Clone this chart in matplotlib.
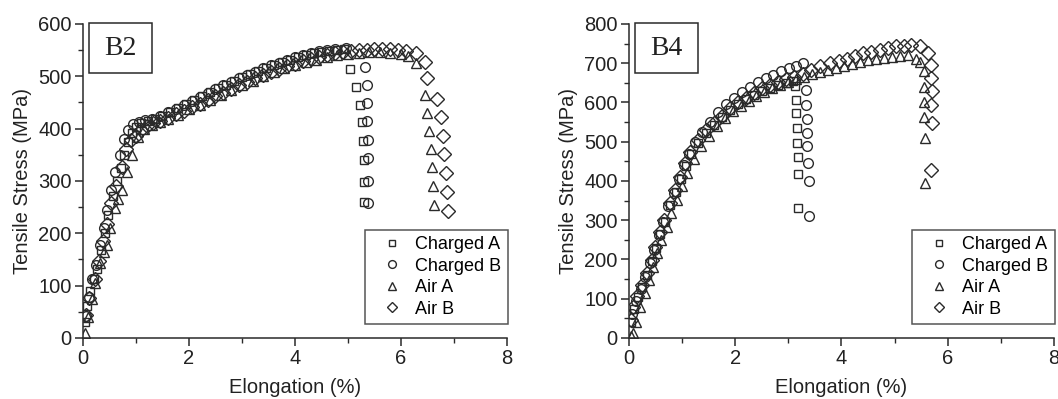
import numpy as np
import matplotlib
matplotlib.use("Agg")
import matplotlib.pyplot as plt
from matplotlib.patches import Rectangle
from matplotlib.ticker import MultipleLocator

plt.rcParams["font.family"] = ["Liberation Sans", "DejaVu Sans"]

labels = ["Charged A", "Charged B", "Air A", "Air B"]

# ---- B2 ----
b2_ca_x = [0.03, 0.08, 0.14, 0.20, 0.27, 0.34, 0.41, 0.48, 0.56, 0.64, 0.71, 0.78, 0.85, 0.92, 1.00, 1.10, 1.22, 1.35, 1.50, 1.65,
           1.80, 1.95, 2.10, 2.25, 2.40, 2.55, 2.70, 2.85, 3.00, 3.15, 3.30, 3.45, 3.60, 3.75, 3.90, 4.05, 4.20, 4.35, 4.50, 4.65,
           4.80, 4.93, 5.04, 5.16, 5.23, 5.26, 5.29, 5.30, 5.30, 5.30]
b2_ca_y = [30, 62, 90, 112, 132, 168, 200, 235, 272, 300, 325, 350, 374, 392, 403, 410, 414, 419, 425, 432,
           440, 447, 455, 463, 470, 477, 484, 491, 498, 504, 510, 516, 522, 527, 532, 536, 540, 544, 547, 549,
           551, 552, 514, 479, 446, 413, 376, 340, 298, 259]
b2_cb_x = [0.05, 0.11, 0.18, 0.25, 0.32, 0.39, 0.46, 0.53, 0.61, 0.69, 0.77, 0.85, 0.95, 1.05, 1.17, 1.30, 1.45, 1.60, 1.75, 1.90,
           2.05, 2.20, 2.35, 2.50, 2.65, 2.80, 2.95, 3.10, 3.25, 3.40, 3.55, 3.70, 3.85, 4.00, 4.15, 4.30, 4.45, 4.60, 4.75, 4.97,
           5.32, 5.35, 5.35, 5.36, 5.37, 5.38, 5.38, 5.38]
b2_cb_y = [42, 78, 112, 140, 178, 210, 245, 282, 318, 350, 380, 398, 408, 413, 416, 419, 424, 431, 438, 446,
           453, 461, 468, 476, 483, 490, 497, 503, 509, 515, 521, 526, 531, 536, 540, 544, 548, 551, 553, 555,
           518, 484, 449, 414, 379, 344, 300, 257]
b2_aa_x = [0.03, 0.10, 0.17, 0.23, 0.32, 0.40, 0.45, 0.51, 0.60, 0.67, 0.73, 0.83, 0.92, 1.03, 1.15, 1.30, 1.45, 1.60, 1.80, 2.00,
           2.20, 2.40, 2.60, 2.80, 3.00, 3.20, 3.40, 3.60, 3.80, 4.00, 4.20, 4.40, 4.60, 4.80, 5.00, 5.20, 5.40, 5.60, 5.80, 6.00,
           6.14, 6.28, 6.45, 6.50, 6.53, 6.56, 6.59, 6.61, 6.62]
b2_aa_y = [10, 40, 75, 105, 143, 165, 178, 211, 248, 265, 283, 318, 350, 385, 400, 407, 412, 418, 427, 437,
           446, 455, 465, 474, 483, 492, 500, 508, 515, 521, 527, 532, 537, 540, 543, 545, 546, 546, 545, 543,
           538, 525, 465, 430, 396, 362, 326, 291, 255]
b2_ab_x = [0.06, 0.12, 0.23, 0.30, 0.38, 0.45, 0.52, 0.62, 0.73, 0.82, 0.91, 1.00, 1.10, 1.20, 1.32, 1.45, 1.60, 1.75, 1.90, 2.05,
           2.20, 2.35, 2.50, 2.65, 2.80, 2.95, 3.10, 3.25, 3.40, 3.55, 3.70, 3.85, 4.00, 4.15, 4.30, 4.45, 4.60, 4.75, 4.90, 5.05,
           5.20, 5.35, 5.50, 5.65, 5.80, 5.95, 6.10, 6.28, 6.45, 6.50, 6.68, 6.76, 6.79, 6.81, 6.84, 6.86, 6.88]
b2_ab_y = [44, 77, 113, 148, 186, 218, 258, 290, 327, 361, 378, 386, 398, 405, 410, 415, 421, 428, 434, 441,
           448, 455, 462, 469, 476, 483, 490, 496, 502, 508, 514, 519, 524, 529, 533, 537, 541, 544, 547, 549,
           550, 551, 552, 552, 552, 551, 549, 544, 528, 497, 457, 422, 386, 352, 315, 279, 243]

# ---- B4 ----
b4_ca_x = [0.03, 0.09, 0.17, 0.25, 0.34, 0.44, 0.51, 0.59, 0.67, 0.78, 0.88, 0.98, 1.07, 1.17, 1.30, 1.45, 1.60, 1.75, 1.90, 2.05,
           2.20, 2.35, 2.50, 2.65, 2.80, 2.95, 3.08, 3.13, 3.15, 3.15, 3.16, 3.17, 3.18, 3.18, 3.18]
b4_ca_y = [40, 75, 105, 130, 160, 195, 228, 265, 295, 338, 372, 405, 438, 468, 498, 522, 543, 562, 580, 595,
           608, 620, 630, 638, 645, 650, 655, 641, 607, 573, 534, 496, 462, 418, 330]
b4_cb_x = [0.06, 0.14, 0.22, 0.31, 0.40, 0.48, 0.56, 0.64, 0.74, 0.84, 0.94, 1.03, 1.13, 1.25, 1.38, 1.52, 1.67, 1.82, 1.97, 2.12,
           2.27, 2.42, 2.57, 2.72, 2.87, 3.02, 3.15, 3.28, 3.34, 3.34, 3.35, 3.35, 3.36, 3.37, 3.38, 3.39]
b4_cb_y = [60, 95, 125, 155, 190, 225, 262, 295, 335, 370, 405, 440, 470, 500, 525, 550, 575, 595, 612, 627,
           640, 652, 662, 671, 680, 688, 694, 700, 632, 594, 558, 522, 488, 445, 400, 311]
b4_aa_x = [0.04, 0.08, 0.13, 0.20, 0.30, 0.37, 0.46, 0.52, 0.61, 0.71, 0.80, 0.90, 0.99, 1.10, 1.22, 1.35, 1.50, 1.65, 1.80, 1.95,
           2.10, 2.25, 2.40, 2.55, 2.70, 2.85, 3.00, 3.15, 3.30, 3.45, 3.60, 3.75, 3.90, 4.05, 4.20, 4.35, 4.50, 4.65, 4.80, 4.95,
           5.10, 5.25, 5.40, 5.47, 5.56, 5.56, 5.56, 5.56, 5.58, 5.58]
b4_aa_y = [5, 12, 42, 80, 114, 148, 182, 216, 250, 284, 318, 352, 386, 420, 455, 488, 515, 540, 560, 578,
           592, 605, 617, 627, 636, 645, 652, 659, 666, 672, 678, 684, 689, 694, 699, 703, 707, 711, 714, 717,
           719, 720, 710, 704, 679, 640, 602, 564, 509, 394]
b4_ab_x = [0.03, 0.08, 0.16, 0.24, 0.33, 0.43, 0.49, 0.58, 0.65, 0.77, 0.86, 0.96, 1.05, 1.15, 1.30, 1.45, 1.60, 1.75, 1.90, 2.05,
           2.20, 2.35, 2.50, 2.65, 2.80, 2.95, 3.10, 3.27, 3.43, 3.60, 3.78, 3.95, 4.10, 4.25, 4.40, 4.56, 4.72, 4.87, 5.03, 5.17,
           5.31, 5.47, 5.63, 5.68, 5.68, 5.70, 5.68, 5.70, 5.68]
b4_ab_y = [45, 80, 108, 135, 165, 199, 233, 271, 301, 343, 377, 411, 445, 475, 505, 530, 548, 565, 585, 600,
           612, 624, 636, 645, 653, 660, 664, 672, 683, 692, 700, 706, 712, 718, 725, 729, 733, 738, 743, 745,
           746, 744, 725, 696, 662, 628, 594, 547, 428]

markers = ['s', 'o', '^', 'D']
msizes = [6.0, 7.0, 7.5, 6.8]
ink = '#2a2a2a'
fs = 14.5


def drawPanel(ax, series, ymax, name):
    for (x, y), lab, m, ms in zip(series, labels, markers, msizes):
        ax.plot(x, y, linestyle='none', marker=m, markersize=ms, markerfacecolor='none',
                markeredgecolor=ink, markeredgewidth=1.0, label=lab)
    ax.set_xlim(0, 8)
    ax.set_ylim(0, ymax)
    ax.xaxis.set_major_locator(MultipleLocator(2))
    ax.xaxis.set_minor_locator(MultipleLocator(1))
    ax.yaxis.set_major_locator(MultipleLocator(100))
    ax.yaxis.set_minor_locator(MultipleLocator(50))
    for s in ['top', 'right']:
        ax.spines[s].set_visible(False)
    for s in ['left', 'bottom']:
        ax.spines[s].set_linewidth(1.1)
        ax.spines[s].set_color(ink)
    ax.tick_params(which='major', direction='out', length=6, width=1.1, color=ink,
                   labelsize=fs, pad=2, labelcolor='#222222')
    ax.tick_params(which='minor', direction='out', length=3.5, width=1.0, color=ink)
    ax.set_xlabel('Elongation (%)', fontsize=fs, color='#222222')
    ax.set_ylabel('Tensile Stress (MPa)', fontsize=fs, color='#222222')
    ax.xaxis.set_label_coords(0.5, -0.128)
    ax.yaxis.set_label_coords(-0.12, 0.5)
    leg = ax.legend(loc='lower left', bbox_to_anchor=(0.665, 0.045), borderaxespad=0,
                    fontsize=13, frameon=True, fancybox=False, handlelength=2.3,
                    handletextpad=0.15, labelspacing=0.25, borderpad=0.35, markerscale=0.8)
    leg.get_frame().set_edgecolor(ink)
    leg.get_frame().set_linewidth(1.1)
    ax.add_patch(Rectangle((0.014, 0.843), 0.149, 0.16, transform=ax.transAxes,
                           fill=False, edgecolor=ink, linewidth=1.1, clip_on=False))
    ax.text(0.0885, 0.921, name, transform=ax.transAxes, ha='center', va='center',
            fontsize=20, family='Liberation Serif', color='#222222')


fig = plt.figure(figsize=(10.58, 3.99), dpi=100)
ax1 = fig.add_axes([0.0784, 0.1529, 0.4008, 0.787])
ax2 = fig.add_axes([0.5945, 0.1529, 0.4017, 0.787])

drawPanel(ax1, [(b2_ca_x, b2_ca_y), (b2_cb_x, b2_cb_y), (b2_aa_x, b2_aa_y), (b2_ab_x, b2_ab_y)], 600, 'B2')
drawPanel(ax2, [(b4_ca_x, b4_ca_y), (b4_cb_x, b4_cb_y), (b4_aa_x, b4_aa_y), (b4_ab_x, b4_ab_y)], 800, 'B4')

fig.savefig('out.png', dpi=100)
